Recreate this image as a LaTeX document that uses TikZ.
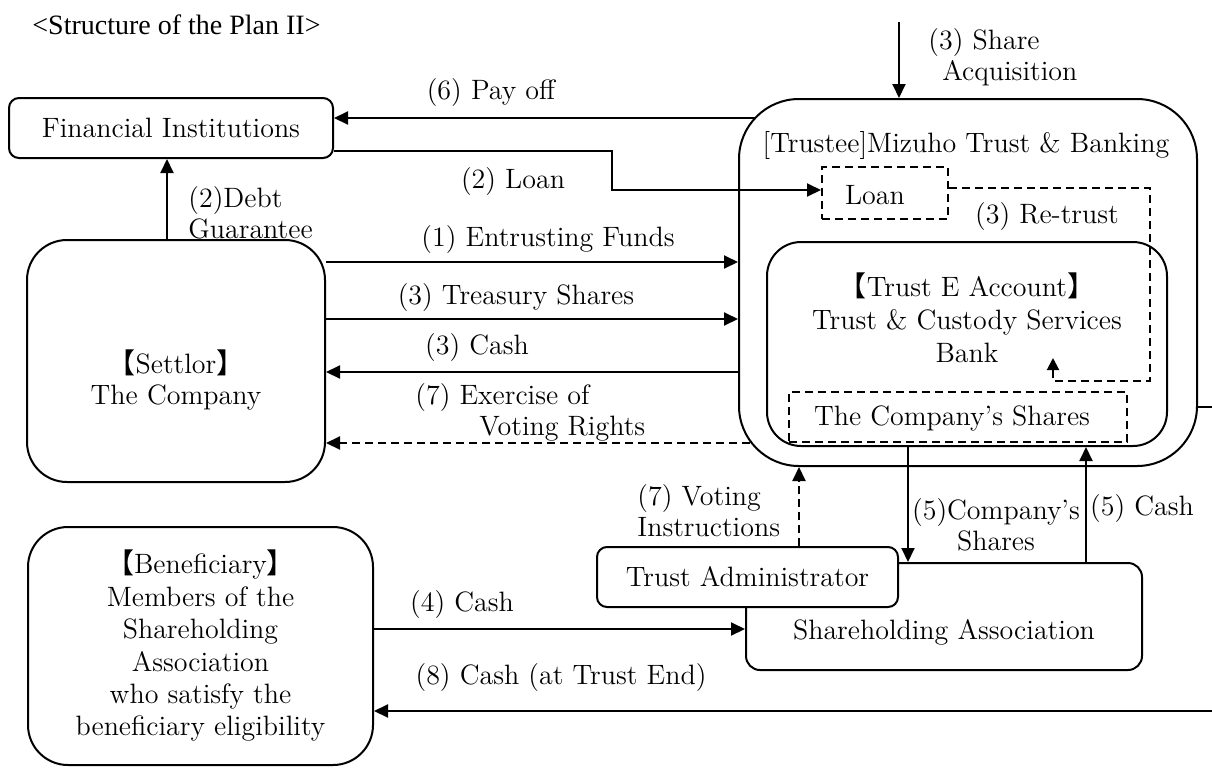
\documentclass[tikz,border=0pt]{standalone}
\usepackage{fontspec}
\newfontfamily\cjkfont{Noto Sans CJK JP}
\newfontfamily\ttlfont{Liberation Serif}
\usetikzlibrary{arrows.meta}
\newcommand\lbrk{{\cjkfont 【}}
\newcommand\rbrk{{\cjkfont 】}}
\tikzset{
  box/.style={draw, line width=1pt, inner sep=0pt, align=center},
  dbox/.style={draw, line width=1pt, dash pattern=on 4pt off 2.5pt, inner sep=0pt},
  txt/.style={inner sep=0pt, align=center},
  arr/.style={line width=1pt, -{Triangle[length=7pt,width=6.5pt]}},
  darr/.style={arr, dash pattern=on 4pt off 2.5pt},
  dline/.style={line width=1pt, dash pattern=on 4pt off 2.5pt},
}
\begin{document}
\begin{tikzpicture}[x=0.5pt,y=-0.5pt, font=\fontsize{14}{15.5}\selectfont]
\useasboundingbox (0,0) rectangle (1212,767);

\node[txt, anchor=west, font=\ttlfont\fontsize{14}{16}\selectfont] (title) at (32,25) {<Structure of the Plan II>};

% boxes
\node[box, rounded corners=5pt, minimum width=162pt, minimum height=30pt] (fi) at (171,128) {Financial Institutions};
\node[box, rounded corners=20pt, minimum width=149pt, minimum height=121pt] (settlor) at (176,361) {};
\node[txt] (settlortxt) at (176,380) {\lbrk Settlor\rbrk\\The Company};
\node[box, rounded corners=20pt, minimum width=172.5pt, minimum height=119pt, font=\fontsize{14}{16.2}\selectfont] (ben) at (200.5,646) {\lbrk Beneficiary\rbrk\\Members of the\\Shareholding\\Association\\who satisfy the\\beneficiary eligibility};

\node[box, rounded corners=30pt, minimum width=229pt, minimum height=183.5pt] (trustee) at (968,282.5) {};
\node[txt] (trusteetxt) at (966,145) {[Trustee]Mizuho Trust \& Banking};
\node[dbox, minimum width=63pt, minimum height=26pt] (loan) at (885,193) {};
\node[txt] (loantxt) at (875,195) {Loan};
\node[box, rounded corners=17pt, minimum width=200pt, minimum height=102pt] (trustE) at (967,344) {};
\node[txt, font=\fontsize{14}{16.5}\selectfont] (trustEtxt) at (967,318) {\lbrk Trust E Account\rbrk\\Trust \& Custody Services\\Bank};
\node[dbox, minimum width=169pt, minimum height=25pt] (shares) at (958,417) {};
\node[txt] (sharestxt) at (952,418) {The Company’s Shares};
\node[box, rounded corners=7pt, minimum width=198pt, minimum height=53.5pt] (sa) at (944,616.5) {};
\node[txt] (satxt) at (944,632) {Shareholding Association};
\node[box, fill=white, rounded corners=5pt, minimum width=150.5pt, minimum height=30pt] (ta) at (747.5,577) {Trust Administrator};

% connectors
\coordinate (payS) at (756,118);
\draw[arr] (payS) -- (fi.east |- payS);
\draw[arr] (fi.east |- 0,151) -- (612,151) -- (612,190) -- (loan.west |- 0,190);
\draw[arr] (settlor.north -| 167,0) -- (fi.south -| 167,0);
\coordinate (sqtop) at (899,22);
\draw[arr] (sqtop) -- (trustee.north -| sqtop);
\draw[arr] (settlor.east |- 0,262) -- (trustee.west |- 0,262);
\draw[arr] (settlor.east |- 0,319) -- (trustee.west |- 0,319);
\draw[arr] (trustee.west |- 0,372) -- (settlor.east |- 0,372);
\coordinate (exS) at (750,443);
\draw[darr] (exS) -- (settlor.east |- exS);
\draw[darr] (ta.north -| 799,0) -- (trustee.south -| 799,0);
\draw[arr] (trustE.south -| 908,0) -- (sa.north -| 908,0);
\draw[arr] (sa.north -| 1086,0) -- (trustE.south -| 1086,0);
\draw[arr] (ben.east |- 0,629) -- (sa.west |- 0,629);
\coordinate (endR) at (1212,711);
\draw[arr] (endR) -- (ben.east |- endR);
\coordinate (trR) at (1212,407);
\draw[line width=1pt] (trustee.east |- trR) -- (trR);
\draw[dline, -{Triangle[length=6pt,width=6pt]}] (loan.east |- 0,188) -- (1150,188) -- (1150,381) -- (1053,381) -- (1053,358);

% labels
\node[txt] (l6) at (491,93) {(6) Pay off};
\node[txt] (l2) at (513,182) {(2) Loan};
\node[txt, anchor=west, align=left] (l2d) at (188,212.5) {(2)Debt\\Guarantee};
\node[txt, anchor=west, align=left] (l3s) at (928,57) {(3) Share\\\hspace*{7pt}Acquisition};
\node[txt] (l1) at (548,240) {(1) Entrusting Funds};
\node[txt] (l3t) at (516,298) {(3) Treasury Shares};
\node[txt] (l3c) at (477,348) {(3) Cash};
\node[txt, anchor=west, align=left] (l7e) at (415,412) {(7) Exercise of\\\hspace*{32pt}Voting Rights};
\node[txt] (l3r) at (1047,217) {(3) Re-trust};
\node[txt, anchor=west, align=left] (l7v) at (637,511) {(7) Voting\\Instructions};
\node[txt] (l5s) at (996,525) {(5)Company’s\\Shares};
\node[txt] (l5c) at (1142,509) {(5) Cash};
\node[txt] (l4) at (462,605) {(4) Cash};
\node[txt] (l8) at (561,678) {(8) Cash (at Trust End)};
\end{tikzpicture}
\end{document}
